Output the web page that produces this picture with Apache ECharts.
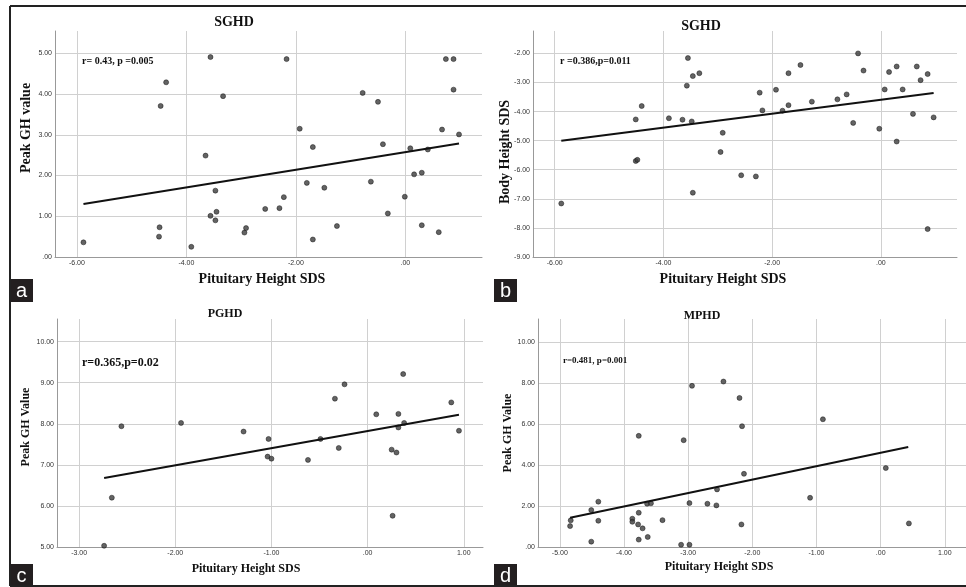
<!DOCTYPE html>
<html>
<head>
<meta charset="utf-8">
<script src="https://cdn.jsdelivr.net/npm/echarts@6/dist/echarts.min.js"></script>
<style>
  html, body { margin: 0; padding: 0; background: #fff; }
  #chart { width: 966px; height: 587px; }
</style>
</head>
<body>
<div id="chart"></div>
<script>
// panel a: SGHD, pituitary height SDS vs peak GH
const sghdPeakX = [-5.88, -4.47, -4.37, -4.49, -4.50, -3.91, -3.56, -3.33, -3.65, -3.47, -3.45, -3.56, -3.47, -2.94,
  -2.91, -2.56, -2.30, -2.22, -2.17, -1.93, -1.80, -1.69, -1.69, -1.48, -1.25, -0.78, -0.63, -0.50, -0.41, -0.32,
  -0.01, 0.09, 0.16, 0.30, 0.41, 0.30, 0.61, 0.67, 0.74, 0.88, 0.88, 0.98]
const sghdPeakY = [0.36, 3.71, 4.29, 0.73, 0.50, 0.25, 4.91, 3.95, 2.49, 1.63, 1.11, 1.01, 0.90, 0.60,
  0.71, 1.18, 1.20, 1.47, 4.86, 3.15, 1.82, 2.70, 0.43, 1.70, 0.76, 4.03, 1.85, 3.81, 2.77, 1.07,
  1.48, 2.67, 2.03, 2.07, 2.64, 0.78, 0.61, 3.13, 4.86, 4.86, 4.11, 3.01]
const sghdPeakFitX = [-5.88, 0.98]
const sghdPeakFitY = [1.30, 2.79]

// panel b: SGHD, pituitary height SDS vs body height SDS
const sghdBodyX = [-5.88, -4.51, -4.40, -4.51, -4.48, -3.90, -3.65, -3.55, -3.46, -3.34, -3.57, -3.48, -3.46, -2.91,
  -2.95, -2.57, -2.30, -2.23, -2.18, -1.93, -1.81, -1.70, -1.70, -1.48, -1.27, -0.80, -0.63, -0.51, -0.42, -0.32,
  -0.03, 0.07, 0.15, 0.29, 0.40, 0.29, 0.59, 0.66, 0.73, 0.86, 0.97, 0.86]
const sghdBodyY = [-7.16, -4.27, -3.81, -5.70, -5.66, -4.23, -4.28, -2.16, -2.78, -2.68, -3.11, -4.34, -6.79, -4.73,
  -5.39, -6.19, -6.23, -3.35, -3.96, -3.25, -3.97, -2.68, -3.78, -2.40, -3.66, -3.58, -3.41, -4.39, -2.00, -2.59,
  -4.59, -3.24, -2.64, -2.45, -3.24, -5.03, -4.08, -2.45, -2.92, -2.71, -4.20, -8.04]
const sghdBodyFitX = [-5.88, 0.97]
const sghdBodyFitY = [-5.00, -3.36]

// panel c: PGHD
const pghdX = [-2.74, -2.66, -2.56, -1.94, -1.29, -1.03, -1.04, -1.00, -0.62, -0.49, -0.34, -0.24,
  -0.30, 0.09, 0.25, 0.30, 0.32, 0.32, 0.38, 0.37, 0.26, 0.87, 0.95]
const pghdY = [5.03, 6.20, 7.94, 8.02, 7.81, 7.63, 7.20, 7.15, 7.12, 7.63, 8.61, 8.96,
  7.41, 8.23, 7.37, 7.30, 8.24, 7.91, 8.02, 9.21, 5.76, 8.52, 7.83]
const pghdFitX = [-2.74, 0.95]
const pghdFitY = [6.68, 8.22]

// panel d: MPHD
const mphdX = [-4.84, -4.83, -4.51, -4.51, -4.40, -4.40, -3.87, -3.87, -3.78, -3.77, -3.77, -3.77, -3.71, -3.63,
  -3.64, -3.58, -3.40, -3.11, -3.07, -2.98, -2.98, -2.94, -2.70, -2.56, -2.55, -2.45, -2.20, -2.16, -2.17, -2.13,
  -1.10, -0.90, 0.08, 0.44]
const mphdY = [1.02, 1.30, 1.80, 0.26, 2.21, 1.28, 1.38, 1.23, 1.10, 1.67, 5.42, 0.36, 0.91, 0.49,
  2.11, 2.13, 1.31, 0.11, 5.21, 0.11, 2.14, 7.86, 2.11, 2.03, 2.81, 8.07, 7.27, 5.89, 1.10, 3.57,
  2.40, 6.23, 3.85, 1.15]
const mphdFitX = [-4.84, 0.43]
const mphdFitY = [1.43, 4.88]

// tick values
const sghdXTicks = [-6, -4, -2, 0]
const sghdPeakYTicks = [0, 1, 2, 3, 4, 5]
const sghdBodyYTicks = [-9, -8, -7, -6, -5, -4, -3, -2]
const pghdXTicks = [-3, -2, -1, 0, 1]
const pghdYTicks = [5, 6, 7, 8, 9, 10]
const mphdXTicks = [-5, -4, -3, -2, -1, 0, 1]
const mphdYTicks = [0, 2, 4, 6, 8, 10]

const panelTitles = ['SGHD', 'SGHD', 'PGHD', 'MPHD']
const panelStats = ['r= 0.43, p =0.005', 'r =0.386,p=0.011', 'r=0.365,p=0.02', 'r=0.481, p=0.001']
const xNames = ['Pituitary Height SDS', 'Pituitary Height SDS', 'Pituitary Height SDS', 'Pituitary Height SDS']
const yNames = ['Peak GH value', 'Body Height SDS', 'Peak GH Value', 'Peak GH Value']
const panelLetters = ['a', 'b', 'c', 'd']

const zip = (xs, ys) => xs.map((x, i) => [x, ys[i]])
const fmt = (v) => (Math.abs(v) < 1e-9 ? '.00' : v.toFixed(2))

const SERIF = '"Liberation Serif", "Times New Roman", serif'
const SANS = '"Liberation Sans", Arial, sans-serif'

// layout of the four panels, in pixels
const panels = [
  { grid: { left: 55, top: 31, width: 427, height: 226 }, x: [-6.4, 1.4], y: [0, 5.55],
    xt: sghdXTicks, yt: sghdPeakYTicks, pts: zip(sghdPeakX, sghdPeakY), fit: zip(sghdPeakFitX, sghdPeakFitY),
    title: [234, 22, 14], stat: [82, 61, 10], xn: [262, 279, 14], yn: [26, 128, 14], box: [10, 279, 23, 23] },
  { grid: { left: 533, top: 31, width: 424, height: 226 }, x: [-6.4, 1.4], y: [-9, -1.23],
    xt: sghdXTicks, yt: sghdBodyYTicks, pts: zip(sghdBodyX, sghdBodyY), fit: zip(sghdBodyFitX, sghdBodyFitY),
    title: [701, 26, 14], stat: [560, 61, 10], xn: [723, 279, 14], yn: [505, 152, 14], box: [494, 279, 23, 23] },
  { grid: { left: 57, top: 319, width: 426, height: 228 }, x: [-3.23, 1.2], y: [5, 10.55],
    xt: pghdXTicks, yt: pghdYTicks, pts: zip(pghdX, pghdY), fit: zip(pghdFitX, pghdFitY),
    title: [225, 314, 12], stat: [82, 363, 12], xn: [246, 569, 12], yn: [26, 427, 12], box: [10, 564, 23, 22] },
  { grid: { left: 538, top: 319, width: 428, height: 228 }, x: [-5.34, 1.33], y: [0, 11.12],
    xt: mphdXTicks, yt: mphdYTicks, pts: zip(mphdX, mphdY), fit: zip(mphdFitX, mphdFitY),
    title: [702, 316, 12], stat: [563, 361, 9], xn: [719, 567, 12], yn: [508, 433, 12], box: [494, 564, 23, 22] },
]

const axisLabel = { fontSize: 7, color: '#333', fontFamily: SANS, margin: 3, formatter: fmt }

function text(x, y, str, size, opts = {}) {
  return {
    type: 'text', x, y, rotation: opts.rotation || 0, z: 10,
    style: {
      text: str, fill: opts.fill || '#111', fontSize: size, fontWeight: opts.weight || 'bold',
      fontFamily: opts.family || SERIF, align: opts.align || 'center', verticalAlign: 'middle',
    },
  }
}

const graphic = []
panels.forEach((p, i) => {
  graphic.push(text(p.title[0], p.title[1], panelTitles[i], p.title[2]))
  graphic.push(text(p.stat[0], p.stat[1], panelStats[i], p.stat[2], { align: 'left' }))
  graphic.push(text(p.xn[0], p.xn[1], xNames[i], p.xn[2]))
  graphic.push(text(p.yn[0], p.yn[1], yNames[i], p.yn[2], { rotation: Math.PI / 2 }))
  const [bx, by, bw, bh] = p.box
  graphic.push({ type: 'rect', shape: { x: bx, y: by, width: bw, height: bh }, style: { fill: '#231f20' }, z: 10 })
  graphic.push(text(bx + bw / 2, by + bh / 2 + 1, panelLetters[i], 20, { fill: '#fff', weight: 'normal', family: SANS }))
})
// outer frame: top, left and bottom rules
const frame = { stroke: '#222', lineWidth: 2 }
graphic.push({ type: 'line', shape: { x1: 10, y1: 6, x2: 966, y2: 6 }, style: frame, z: 10 })
graphic.push({ type: 'line', shape: { x1: 10, y1: 6, x2: 10, y2: 586 }, style: frame, z: 10 })
graphic.push({ type: 'line', shape: { x1: 10, y1: 586, x2: 966, y2: 586 }, style: frame, z: 10 })

const option = {
  backgroundColor: '#fff',
  animation: false,
  grid: panels.map((p) => p.grid),
  xAxis: panels.map((p, i) => ({
    type: 'value', gridIndex: i, min: p.x[0], max: p.x[1],
    axisLine: { onZero: false, lineStyle: { color: '#999', width: 1 } },
    axisTick: { show: false, customValues: p.xt },
    axisLabel: { ...axisLabel, customValues: p.xt },
    splitLine: { show: true, lineStyle: { color: '#d0d0d0', width: 1 } },
  })),
  yAxis: panels.map((p, i) => ({
    type: 'value', gridIndex: i, min: p.y[0], max: p.y[1],
    axisLine: { show: true, onZero: false, lineStyle: { color: '#999', width: 1 } },
    axisTick: { show: false, customValues: p.yt },
    axisLabel: { ...axisLabel, customValues: p.yt },
    splitLine: { show: true, lineStyle: { color: '#d0d0d0', width: 1 } },
  })),
  series: panels.flatMap((p, i) => [
    {
      type: 'scatter', xAxisIndex: i, yAxisIndex: i, data: p.pts, symbolSize: 5,
      itemStyle: { color: '#3c3c3c', borderColor: '#111', borderWidth: 0.6 },
    },
    {
      type: 'line', xAxisIndex: i, yAxisIndex: i, data: p.fit, symbol: 'none',
      lineStyle: { color: '#111', width: 2 },
    },
  ]),
  graphic,
}

const chart = echarts.init(document.getElementById('chart'))
chart.setOption(option)
</script>
</body>
</html>
